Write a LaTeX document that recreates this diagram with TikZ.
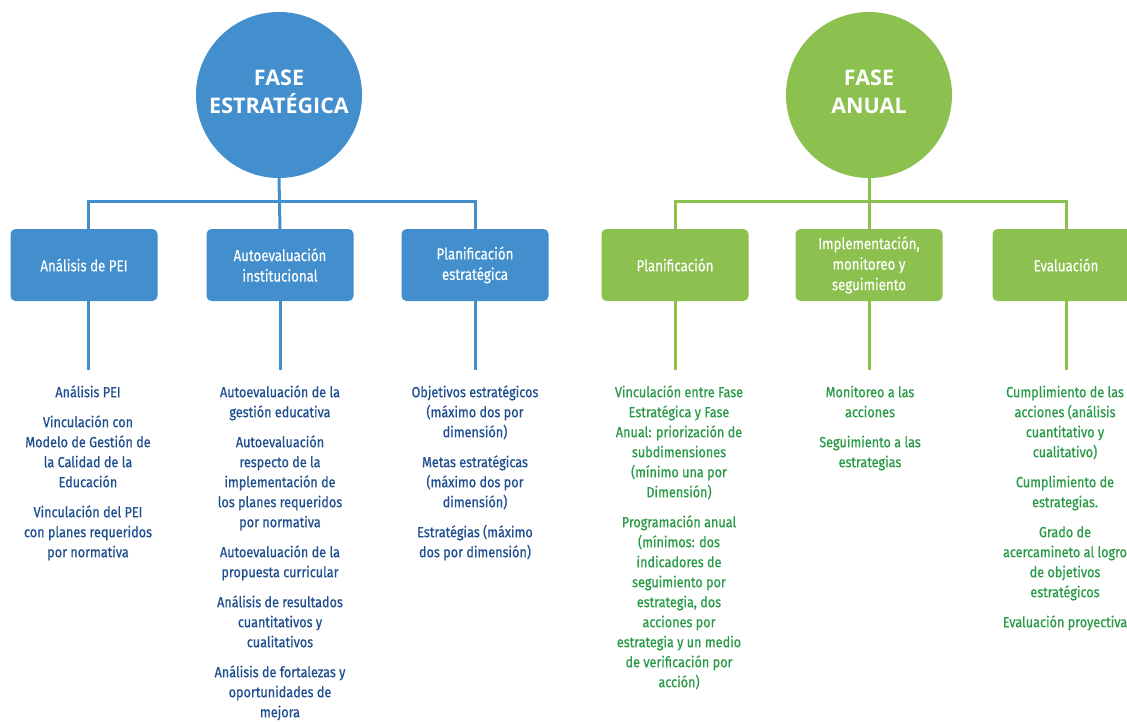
\documentclass[tikz,border=0pt]{standalone}
\usepackage{fontspec}
\setmainfont{Fira Sans}
\newfontfamily\cond[FakeStretch=0.86,FakeBold=0.7]{Fira Sans}
\newfontfamily\condbox[FakeStretch=0.83,FakeBold=0.3]{Fira Sans}
\newfontfamily\headf{Open Sans}
\definecolor{blueF}{HTML}{438ECC}
\definecolor{greenF}{HTML}{8CC04F}
\definecolor{blueT}{HTML}{1F4F8F}
\definecolor{greenT}{HTML}{2A9A48}
\tikzset{
  phase/.style={circle, inner sep=0pt, minimum size=166pt, text=white, align=center,
    font={\headf\bfseries\fontsize{21.5pt}{28pt}\selectfont}},
  stagebox/.style={rectangle, rounded corners=5pt, minimum width=147pt, minimum height=72pt,
    inner sep=2pt, text=white, align=center, font={\condbox\fontsize{16pt}{20.5pt}\selectfont}},
  itemlist/.style={anchor=north, inner sep=0pt, align=center,
    font={\cond\fontsize{14.7pt}{20pt}\selectfont}},
  conn/.style={line width=3pt},
}
\begin{document}
\begin{tikzpicture}[x=1pt,y=-1pt]
\useasboundingbox (0,0) rectangle (1127,721);
% ---------- Fase estrategica ----------
\node[phase, fill=blueF] (c1) at (279,95) {FASE\\ESTRATÉGICA\rule[-7pt]{0pt}{7pt}};
\node[stagebox, fill=blueF] (b1) at (84,265) {Análisis de PEI};
\node[stagebox, fill=blueF] (b2) at (280,265) {Autoevaluación\\institucional};
\node[stagebox, fill=blueF] (b3) at (475,265) {Planificación\\estratégica};
\coordinate (h1) at (280,201);
\coordinate (e1) at (88,370);
\coordinate (e2) at (280,370);
\coordinate (e3) at (475,370);
\draw[conn, blueF] (b1.north -| e1) |- (h1) -| (b3.north);
\draw[conn, blueF] (c1.south) -- (b2.north);
\draw[conn, blueF] (b1.south -| e1) -- (e1);
\draw[conn, blueF] (b2.south) -- (e2);
\draw[conn, blueF] (b3.south) -- (e3);
\node[itemlist, text=blueT] (l1) at (88,383) {\rule{0pt}{14pt}Análisis PEI\\[10pt]
Vinculación con\\ Modelo de Gestión de\\ la Calidad de la\\ Educación\\[10pt]
Vinculación del PEI\\ con planes requeridos\\ por normativa};
\node[itemlist, text=blueT] (l2) at (280,383) {\rule{0pt}{14pt}Autoevaluación de la\\ gestión educativa\\[10pt]
Autoevaluación\\ respecto de la\\ implementación de\\ los planes requeridos\\ por normativa\\[10pt]
Autoevaluación de la\\ propuesta curricular\\[10pt]
Análisis de resultados\\ cuantitativos y\\ cualitativos\\[10pt]
Análisis de fortalezas y\\ oportunidades de\\ mejora};
\node[itemlist, text=blueT] (l3) at (475,383) {\rule{0pt}{14pt}Objetivos estratégicos\\ (máximo dos por\\ dimensión)\\[10pt]
Metas estratégicas\\ (máximo dos por\\ dimensión)\\[10pt]
Estratégias (máximo\\ dos por dimensión)};
% ---------- Fase anual ----------
\node[phase, fill=greenF] (c2) at (869,95) {FASE\\ANUAL\rule[-7pt]{0pt}{7pt}};
\node[stagebox, fill=greenF] (g1) at (675,265) {Planificación};
\node[stagebox, fill=greenF] (g2) at (869,265) {Implementación,\\monitoreo y\\seguimiento};
\node[stagebox, fill=greenF] (g3) at (1066,265) {Evaluación};
\coordinate (h2) at (869,201);
\draw[conn, greenF] (g1.north) |- (h2) -| (g3.north);
\draw[conn, greenF] (c2.south) -- (g2.north);
\coordinate (f1) at (675,370);
\coordinate (f2) at (869,370);
\coordinate (f3) at (1066,370);
\draw[conn, greenF] (g1.south) -- (f1);
\draw[conn, greenF] (g2.south) -- (f2);
\draw[conn, greenF] (g3.south) -- (f3);
\node[itemlist, text=greenT] (m1) at (679,383) {\rule{0pt}{14pt}Vinculación entre Fase\\ Estratégica y Fase\\ Anual: priorización de\\ subdimensiones\\ (mínimo una por\\ Dimensión)\\[10pt]
Programación anual\\ (mínimos: dos\\ indicadores de\\ seguimiento por\\ estrategia, dos\\ acciones por\\ estrategia y un medio\\ de verificación por\\ acción)};
\node[itemlist, text=greenT] (m2) at (870,383) {\rule{0pt}{14pt}Monitoreo a las\\ acciones\\[10pt]
Seguimiento a las\\ estrategias};
\node[itemlist, text=greenT] (m3) at (1065,383) {\rule{0pt}{14pt}Cumplimiento de las\\ acciones (análisis\\ cuantitativo y\\ cualitativo)\\[10pt]
Cumplimiento de\\ estrategias.\\[10pt]
Grado de\\ acercamineto al logro\\ de objetivos\\ estratégicos\\[10pt]
Evaluación proyectiva};
\end{tikzpicture}
\end{document}
